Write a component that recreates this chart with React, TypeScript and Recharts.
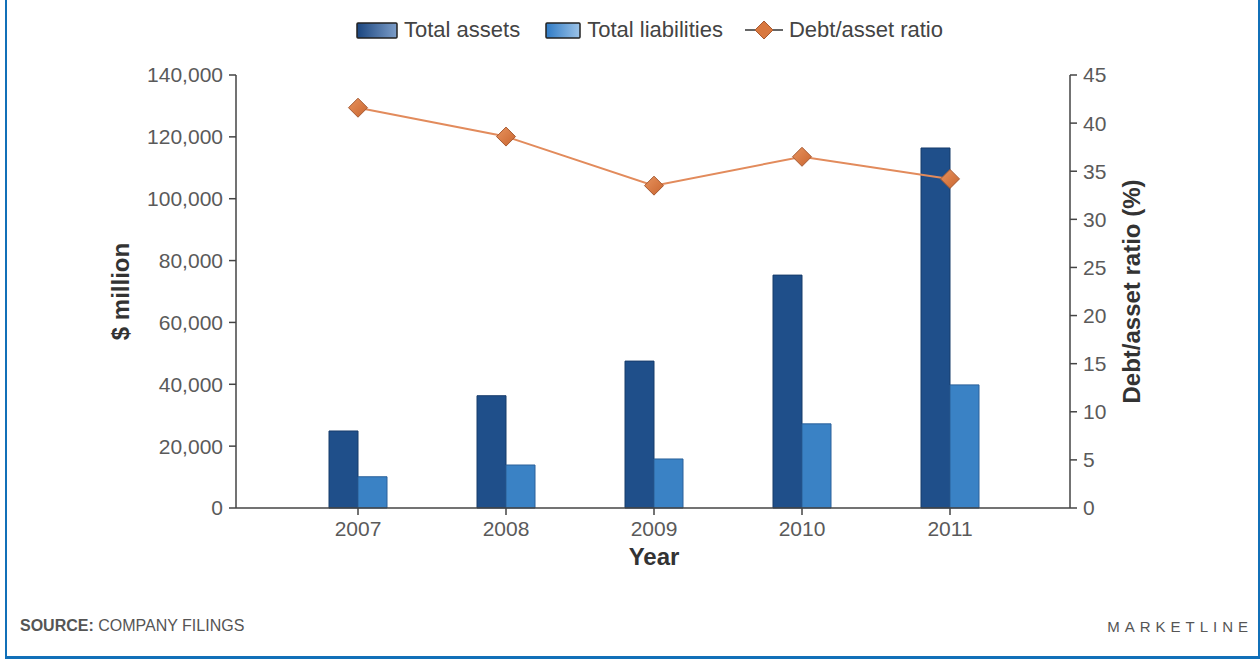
import React from 'react';
import { ComposedChart, Bar, Line, XAxis, YAxis } from 'recharts';

const years = ['2007', '2008', '2009', '2010', '2011'];
const totalAssets = [24900, 36300, 47500, 75300, 116400];
const totalLiabilities = [10100, 13900, 15850, 27200, 39800];
const debtAssetRatio = [41.6, 38.6, 33.5, 36.5, 34.2];
const leftTicks = [0, 20000, 40000, 60000, 80000, 100000, 120000, 140000];
const rightTicks = [0, 5, 10, 15, 20, 25, 30, 35, 40, 45];

const data = years.map((y, i) => ({
  year: y,
  assets: totalAssets[i],
  liabilities: totalLiabilities[i],
  ratio: debtAssetRatio[i],
}));

const FONT = '"Liberation Sans", Arial, Helvetica, sans-serif';
const DARK = '#1F4F8A';
const LIGHT = '#3A82C5';
const ORANGE = '#E28B5C';
const TICK_COLOR = '#5a5a5a';

const fmt = (v: number) => v.toLocaleString('en-US');

const Diamond = (props: any) => {
  const { cx, cy } = props;
  if (cx == null || cy == null) return null;
  const r = 9.5;
  return (
    <path
      d={`M${cx},${cy - r} L${cx + r},${cy} L${cx},${cy + r} L${cx - r},${cy} Z`}
      fill="url(#diamondGrad)"
      stroke="#A65A33"
      strokeWidth={1}
    />
  );
};

const LeftTitle = (props: any) => {
  const vb = props.viewBox;
  const x = vb.x + 120;
  const y = vb.y + vb.height / 2;
  return (
    <text x={x} y={y} transform={`rotate(-90, ${x}, ${y})`} textAnchor="middle" dominantBaseline="central"
      fontFamily={FONT} fontWeight="bold" fontSize={24} fill="#333">
      $ million
    </text>
  );
};

const RightTitle = (props: any) => {
  const vb = props.viewBox;
  const x = vb.x + 61;
  const y = vb.y + vb.height / 2;
  return (
    <text x={x} y={y} transform={`rotate(-90, ${x}, ${y})`} textAnchor="middle" dominantBaseline="central"
      fontFamily={FONT} fontWeight="bold" fontSize={24} fill="#333">
      Debt/asset ratio (%)
    </text>
  );
};

const XTitle = (props: any) => {
  const vb = props.viewBox;
  const x = vb.x + vb.width / 2 + 1;
  const y = vb.y + 48;
  return (
    <text x={x} y={y} textAnchor="middle" dominantBaseline="central"
      fontFamily={FONT} fontWeight="bold" fontSize={24} fill="#333">
      Year
    </text>
  );
};

const LegendBox = ({ from, to, w }: { from: string; to: string; w: number }) => (
  <svg width={w} height={17} style={{ display: 'block' }}>
    <defs>
      <linearGradient id={`lg${from}`} x1="0" y1="0" x2="1" y2="0">
        <stop offset="0" stopColor={from} />
        <stop offset="1" stopColor={to} />
      </linearGradient>
    </defs>
    <rect x={1} y={1} width={w - 2} height={15} fill={`url(#lg${from})`} stroke="#222" strokeWidth={1.5} rx={1} />
  </svg>
);

const LegendLine = () => (
  <svg width={38} height={22} style={{ display: 'block' }}>
    <line x1={0} y1={11} x2={38} y2={11} stroke="#333" strokeWidth={1.5} />
    <path d="M19,2 L28,11 L19,20 L10,11 Z" fill="#D9783F" stroke="#A65A33" strokeWidth={1} />
  </svg>
);

export default function App() {
  return (
    <div style={{ position: 'absolute', left: 0, top: 0, width: 1260, height: 659, background: '#fff', overflow: 'hidden', fontFamily: FONT }}>
      <div style={{ position: 'absolute', left: 5, top: -2, width: 1255, height: 661, boxSizing: 'border-box', borderLeft: '2px solid #1170B8', borderRight: '2px solid #1170B8', borderBottom: '3px solid #1170B8', borderTop: '2px solid #1170B8' }} />

      {/* Legend */}
      <div style={{ position: 'absolute', left: 356, top: 19, height: 22, display: 'flex', alignItems: 'center', fontSize: 22, color: '#444', whiteSpace: 'nowrap' }}>
        <LegendBox from="#1B4680" to="#7C9DC8" w={42} />
        <span style={{ marginLeft: 6 }}>Total assets</span>
        <span style={{ width: 25 }} />
        <LegendBox from="#2F7BC6" to="#9CC3E8" w={36} />
        <span style={{ marginLeft: 6 }}>Total liabilities</span>
        <span style={{ width: 22 }} />
        <LegendLine />
        <span style={{ marginLeft: 6 }}>Debt/asset ratio</span>
      </div>

      <div style={{ position: 'absolute', left: 0, top: 0 }}>
        <ComposedChart width={1260} height={659} data={data} margin={{ top: 75, right: 0, bottom: 81, left: 0 }} barGap={0} barCategoryGap={45}>
          <defs>
            <linearGradient id="diamondGrad" x1="0" y1="0" x2="1" y2="1">
              <stop offset="0" stopColor="#E8935E" />
              <stop offset="1" stopColor="#C9652F" />
            </linearGradient>
          </defs>
          <XAxis
            dataKey="year"
            padding={{ left: 48, right: 46 }}
            height={70}
            tickSize={7}
            tickMargin={6}
            axisLine={{ stroke: '#444', strokeWidth: 1.5 }}
            tickLine={{ stroke: '#444', strokeWidth: 1.5 }}
            tick={{ fill: TICK_COLOR, fontSize: 21, fontFamily: FONT }}
            label={<XTitle />}
          />
          <YAxis
            yAxisId="left"
            domain={[0, 140000]}
            ticks={leftTicks}
            tickFormatter={fmt}
            width={236}
            tickSize={7}
            tickMargin={6}
            interval={0}
            axisLine={{ stroke: '#444', strokeWidth: 1.5 }}
            tickLine={{ stroke: '#444', strokeWidth: 1.5 }}
            tick={{ fill: TICK_COLOR, fontSize: 21, fontFamily: FONT }}
            label={<LeftTitle />}
          />
          <YAxis
            yAxisId="right"
            orientation="right"
            domain={[0, 45]}
            ticks={rightTicks}
            width={190}
            tickSize={7}
            tickMargin={6}
            interval={0}
            axisLine={{ stroke: '#444', strokeWidth: 1.5 }}
            tickLine={{ stroke: '#444', strokeWidth: 1.5 }}
            tick={{ fill: TICK_COLOR, fontSize: 21, fontFamily: FONT }}
            label={<RightTitle />}
          />
          <Bar yAxisId="left" dataKey="assets" name="Total assets" fill={DARK} stroke="#173C6B" strokeWidth={1} isAnimationActive={false} />
          <Bar yAxisId="left" dataKey="liabilities" name="Total liabilities" fill={LIGHT} stroke="#2A609A" strokeWidth={1} isAnimationActive={false} />
          <Line yAxisId="right" dataKey="ratio" name="Debt/asset ratio" stroke={ORANGE} strokeWidth={2} dot={<Diamond />} activeDot={false} isAnimationActive={false} />
        </ComposedChart>
      </div>

      {/* Footer */}
      <div style={{ position: 'absolute', left: 20, top: 617, fontSize: 16, color: '#555', whiteSpace: 'nowrap' }}>
        <b>SOURCE:</b> COMPANY FILINGS
      </div>
      <div style={{ position: 'absolute', right: 7, top: 618, fontSize: 15, color: '#555', letterSpacing: 5, whiteSpace: 'nowrap' }}>
        MARKETLINE
      </div>
    </div>
  );
}
